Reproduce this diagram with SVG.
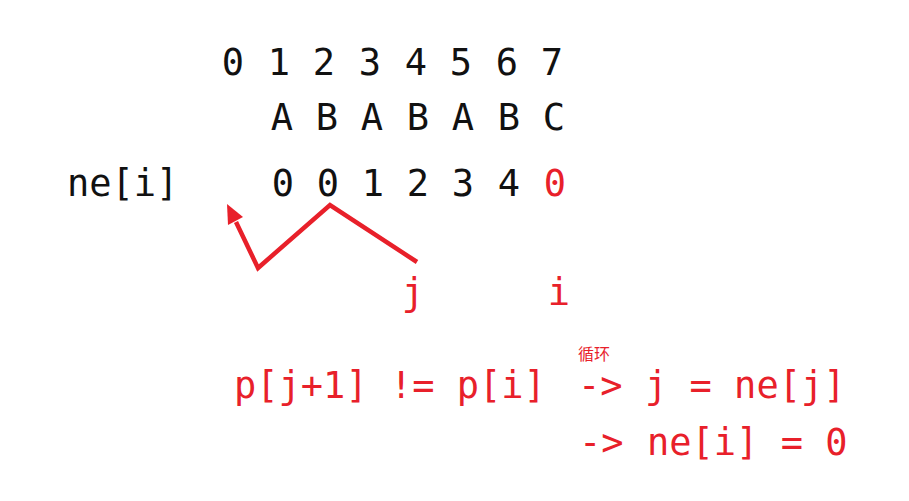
<svg xmlns="http://www.w3.org/2000/svg" width="909" height="501" viewBox="0 0 909 501">
<style>
.t{font-family:"DejaVu Sans Mono","Liberation Mono",monospace;font-size:37px;fill:#111}
.c{text-anchor:middle}
.r{fill:#e8202a}
.s{font-family:"Noto Sans CJK SC",sans-serif;font-size:16px;fill:#e8202a}
.ln{fill:none;stroke:#e8202a;stroke-width:4.5;stroke-linejoin:miter}
.hd{fill:#e8202a}
</style>
<rect width="909" height="501" fill="#fff"/>
<g id="indices" class="t c">
<text x="233" y="75">0</text><text x="279" y="75">1</text><text x="324" y="75">2</text><text x="370" y="75">3</text><text x="416" y="75">4</text><text x="461" y="75">5</text><text x="507" y="75">6</text><text x="552" y="75">7</text>
</g>
<g id="pattern" class="t c">
<text x="282" y="130">A</text><text x="327" y="130">B</text><text x="372" y="130">A</text><text x="418" y="130">B</text><text x="463" y="130">A</text><text x="509" y="130">B</text><text x="554" y="130">C</text>
</g>
<g id="ne" class="t c">
<text x="283" y="196">0</text><text x="328" y="196">0</text><text x="373" y="196">1</text><text x="418" y="196">2</text><text x="463" y="196">3</text><text x="509" y="196">4</text><text x="555" y="196" class="r">0</text>
</g>
<g id="ne-label"><text class="t" x="67" y="196">ne[i]</text></g>
<g id="connectors">
<polyline class="ln" points="417,262 330,205 258,268 236,222"/>
<polygon class="hd" points="227,204 243,217 228,225"/>
</g>
<g id="pointers" class="t c r">
<text x="413" y="305" class="r">j</text><text x="559" y="305" class="r">i</text>
</g>
<g id="rule" class="t r">
<text x="234" y="398" class="r">p[j+1] != p[i]</text>
<text x="578" y="398" class="r">-&gt;</text>
<text x="645" y="398" class="r">j = ne[j]</text>
<text x="579" y="455" class="r">-&gt;</text>
<text x="647" y="455" class="r">ne[i] = 0</text>
<text x="578" y="360" class="s">循环</text>
</g>
</svg>
